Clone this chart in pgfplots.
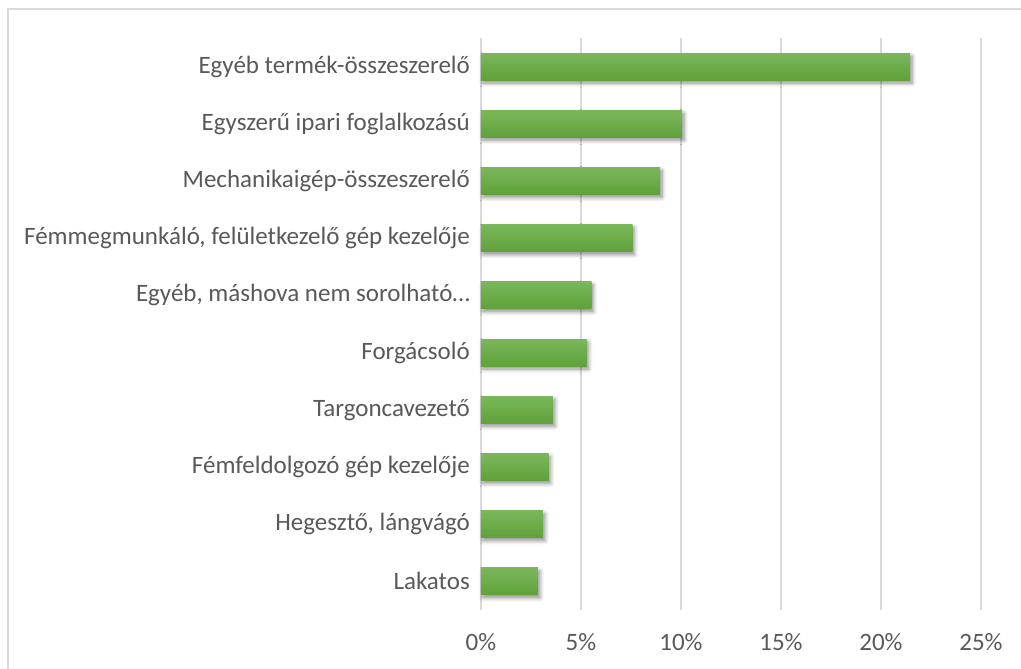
\documentclass[border=0pt]{standalone}
\usepackage{pgfplots}
\pgfplotsset{compat=1.18}
\usepackage{pgfplotstable}
\usetikzlibrary{shadows.blur}
\usepackage{fontspec}
\setmainfont{Carlito}
\definecolor{txt}{HTML}{595959}
\definecolor{gridc}{HTML}{D9D9D9}
\definecolor{bartop}{HTML}{7AB75B}
\definecolor{barbot}{HTML}{60A13A}

% share (%) by occupation, bottom row first
\pgfplotstableread{
pos share
0 2.85
1 3.10
2 3.38
3 3.60
4 5.28
5 5.52
6 7.57
7 8.95
8 10.05
9 21.45
}\shares

\begin{document}
\begin{tikzpicture}[x=1pt,y=1pt]
\useasboundingbox (0,0) rectangle (1021,669);
\draw[gridc, line width=1.5pt] (8,-10) rectangle (1040,660);
\begin{axis}[
    at={(481pt,59pt)}, anchor=south west,
    scale only axis, width=500pt, height=572pt,
    xbar, bar width=27pt,
    xmin=0, xmax=25, ymin=-0.5, ymax=9.5,
    xtick={0,5,10,15,20,25},
    xticklabels={0\%,5\%,10\%,15\%,20\%,25\%},
    ytick={0,...,9},
    yticklabels={Lakatos, {Hegesztő, lángvágó}, {Fémfeldolgozó gép kezelője},
        Targoncavezető, Forgácsoló, {Egyéb, máshova nem sorolható…},
        {Fémmegmunkáló, felületkezelő gép kezelője}, Mechanikaigép-összeszerelő,
        Egyszerű ipari foglalkozású, Egyéb termék-összeszerelő},
    xmajorgrids, grid style={gridc, line width=1.2pt},
    axis line style={draw=none}, major tick length=0pt,
    tick label style={font=\fontsize{25}{30}\selectfont, text=txt},
    yticklabel style={anchor=east, inner sep=0pt, xshift=-11pt},
    xticklabel style={anchor=center, inner sep=0pt, yshift=-32pt},
    clip=false,
]
\pgfplotsinvokeforeach{0,...,9}{
\addplot[bar shift=0pt, draw=none, top color=bartop, bottom color=barbot,
    blur shadow={shadow xshift=2pt, shadow yshift=-3pt, shadow blur radius=4pt,
        shadow blur steps=6, shadow opacity=45}]
    table[x=share, y=pos, restrict y to domain=#1:#1] {\shares};
}
\end{axis}
\end{tikzpicture}
\end{document}
